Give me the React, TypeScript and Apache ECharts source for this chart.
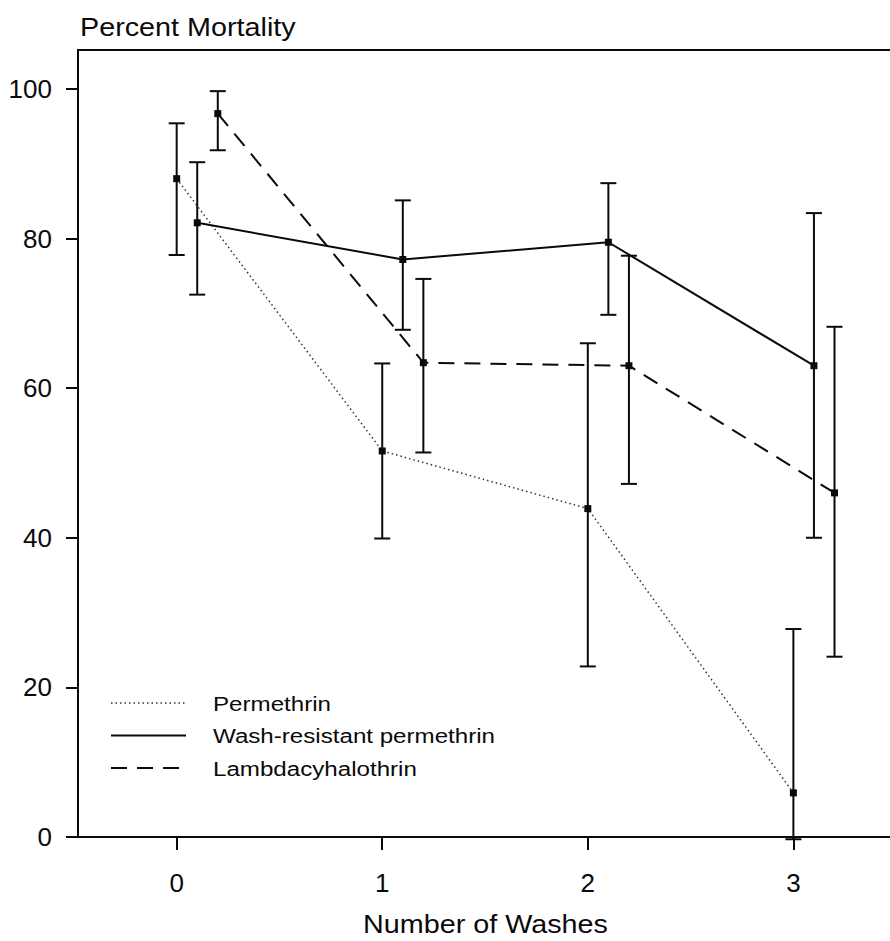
import { useEffect, useRef } from "react";
import * as echarts from "echarts";

const washTicks = [0, 1, 2, 3];
const mortalityTicks = [0, 20, 40, 60, 80, 100];

const seriesNames = ["Permethrin", "Wash-resistant permethrin", "Lambdacyhalothrin"];

const permX = [0, 1, 2, 3];
const permMean = [88.0, 51.6, 43.9, 5.9];
const permLow = [77.8, 39.9, 22.8, -0.3];
const permHigh = [95.4, 63.3, 66.0, 27.8];

const wrX = [0.1, 1.1, 2.1, 3.1];
const wrMean = [82.1, 77.2, 79.5, 63.0];
const wrLow = [72.5, 67.8, 69.8, 40.0];
const wrHigh = [90.2, 85.1, 87.4, 83.4];

const lcX = [0.2, 1.2, 2.2, 3.2];
const lcMean = [96.7, 63.4, 63.0, 46.0];
const lcLow = [91.8, 51.4, 47.2, 24.1];
const lcHigh = [99.7, 74.6, 77.7, 68.2];

const INK = "#0a0a0a";
const FONT = "'Liberation Sans', Arial, Helvetica, sans-serif";

const lineStyles: any[] = [
  { color: "#333", width: 1.5, type: [1.5, 3] },
  { color: INK, width: 2, type: "solid" },
  { color: INK, width: 2, type: [16, 10] },
];

function errorBar(params: any, api: any) {
  const x = api.value(0);
  const lo = api.coord([x, api.value(1)]);
  const hi = api.coord([x, api.value(2)]);
  const hw = 8;
  const style = { stroke: INK, lineWidth: 2 };
  return {
    type: "group",
    children: [
      { type: "line", shape: { x1: lo[0], y1: lo[1], x2: hi[0], y2: hi[1] }, style },
      { type: "line", shape: { x1: hi[0] - hw, y1: hi[1], x2: hi[0] + hw, y2: hi[1] }, style },
      { type: "line", shape: { x1: lo[0] - hw, y1: lo[1], x2: lo[0] + hw, y2: lo[1] }, style },
    ],
  };
}

export default function App() {
  const ref = useRef<HTMLDivElement>(null);
  useEffect(() => {
    if (!ref.current) return;
    const chart = echarts.init(ref.current, undefined, { renderer: "svg" });

    const groups = [
      { x: permX, mean: permMean, low: permLow, high: permHigh },
      { x: wrX, mean: wrMean, low: wrLow, high: wrHigh },
      { x: lcX, mean: lcMean, low: lcLow, high: lcHigh },
    ];

    const series: any[] = [];
    groups.forEach((g, k) => {
      series.push({
        type: "custom",
        name: seriesNames[k] + " range",
        renderItem: errorBar,
        clip: false,
        encode: { x: 0, y: [1, 2] },
        data: g.x.map((x, i) => [x, g.low[i], g.high[i]]),
        z: 2,
      });
    });
    groups.forEach((g, k) => {
      series.push({
        type: "line",
        name: seriesNames[k],
        data: g.x.map((x, i) => [x, g.mean[i]]),
        symbol: "rect",
        symbolSize: 7,
        showSymbol: true,
        itemStyle: { color: INK },
        lineStyle: lineStyles[k],
        z: 3,
      });
    });

    const legendTop = 703;
    const legendStep = 32.5;
    const legendGraphics: any[] = [];
    seriesNames.forEach((name, k) => {
      const y = legendTop + k * legendStep;
      legendGraphics.push({
        type: "line",
        shape: { x1: 111, y1: y, x2: k === 2 ? 184 : 186, y2: y },
        style: {
          stroke: lineStyles[k].color,
          lineWidth: lineStyles[k].width,
          lineDash: Array.isArray(lineStyles[k].type) ? lineStyles[k].type : null,
        },
      });
      legendGraphics.push({
        type: "text",
        x: 213,
        y: y + 1,
        scaleX: 1.15,
        style: {
          text: name,
          font: `21px ${FONT}`,
          fill: INK,
          textVerticalAlign: "middle",
          verticalAlign: "middle",
        },
      });
    });

    chart.setOption({
      animation: false,
      backgroundColor: "#fff",
      grid: { left: 78, top: 50, width: 812, height: 787, containLabel: false },
      xAxis: [
        {
          type: "value",
          min: -0.48,
          max: 3.47,
          axisLine: { show: true, onZero: false, lineStyle: { color: INK, width: 2 } },
          axisTick: { show: true, customValues: washTicks, length: 13, lineStyle: { color: INK, width: 2 } },
          axisLabel: {
            customValues: washTicks,
            fontSize: 26,
            fontFamily: FONT,
            color: INK,
            margin: 33,
          },
          splitLine: { show: false },
        },
        {
          type: "value",
          position: "top",
          min: -0.48,
          max: 3.47,
          axisLine: { show: true, onZero: false, lineStyle: { color: INK, width: 2 } },
          axisTick: { show: false },
          axisLabel: { show: false },
          splitLine: { show: false },
        },
      ],
      yAxis: {
        type: "value",
        min: 0,
        max: 105.2,
        axisLine: { show: true, onZero: false, lineStyle: { color: INK, width: 2 } },
        axisTick: { show: true, customValues: mortalityTicks, length: 12, lineStyle: { color: INK, width: 2 } },
        axisLabel: {
          customValues: mortalityTicks,
          fontSize: 26,
          fontFamily: FONT,
          color: INK,
          margin: 26,
        },
        splitLine: { show: false },
      },
      graphic: [
        {
          type: "text",
          x: 80,
          y: 28,
          scaleX: 1.15,
          style: {
            text: "Percent Mortality",
            font: `25px ${FONT}`,
            fill: INK,
            textVerticalAlign: "middle",
            verticalAlign: "middle",
          },
        },
        {
          type: "text",
          x: 363,
          y: 925,
          scaleX: 1.15,
          style: {
            text: "Number of Washes",
            font: `25px ${FONT}`,
            fill: INK,
            textVerticalAlign: "middle",
            verticalAlign: "middle",
          },
        },
        ...legendGraphics,
      ],
      series,
    });
    return () => chart.dispose();
  }, []);
  return (
    <div
      ref={ref}
      style={{ position: "fixed", left: 0, top: 0, width: 890, height: 941, background: "#fff" }}
    />
  );
}
